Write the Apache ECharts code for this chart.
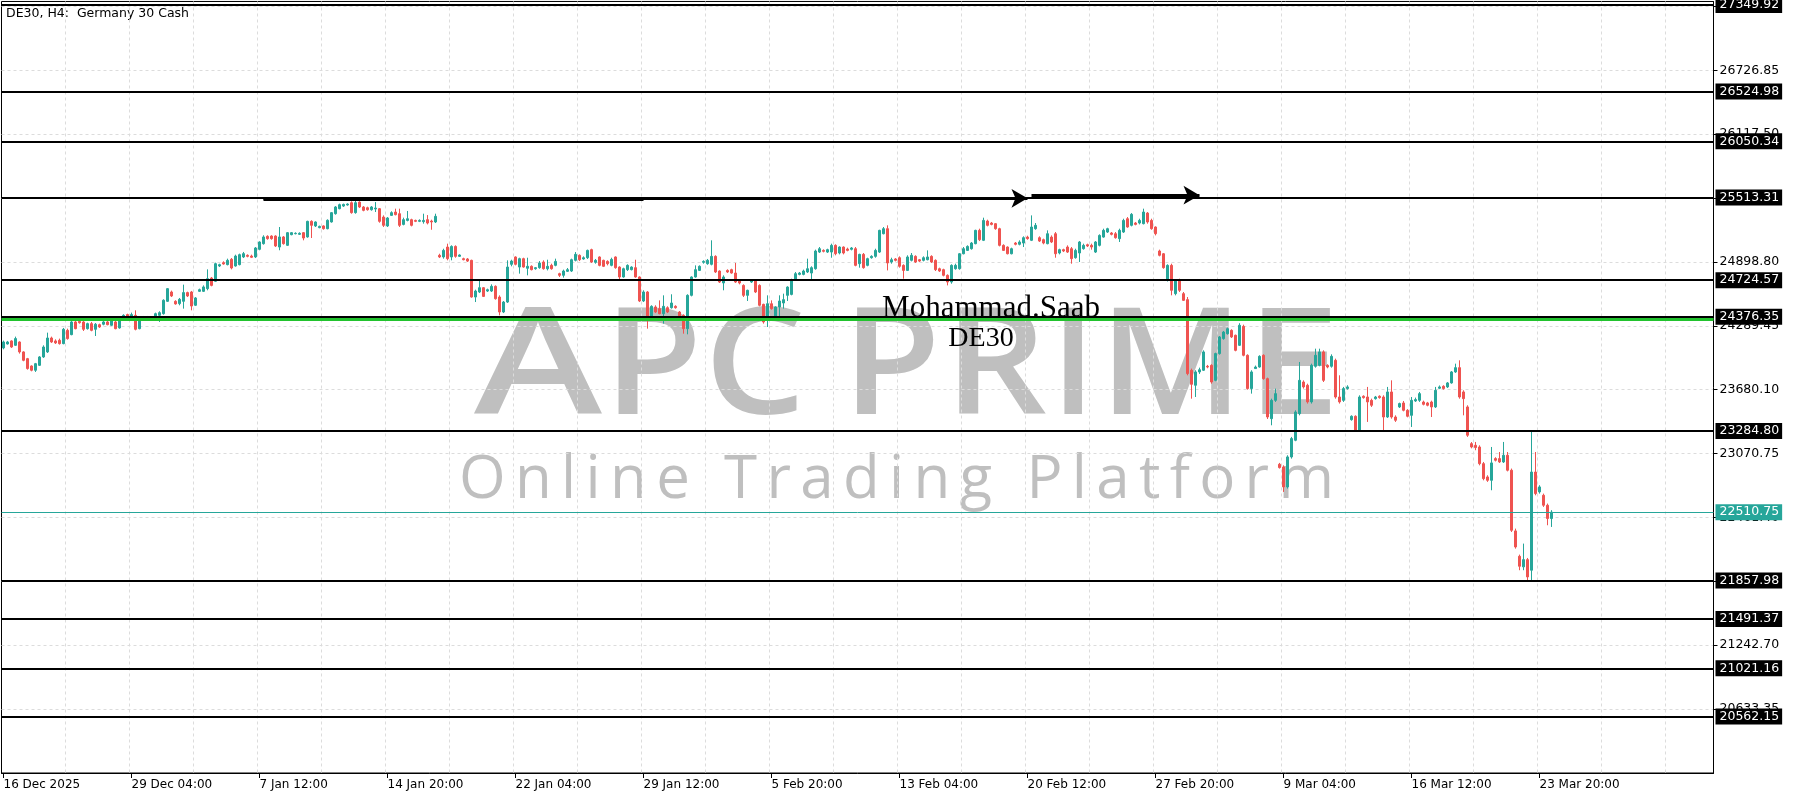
<!DOCTYPE html>
<html><head><meta charset="utf-8">
<script src="https://cdn.jsdelivr.net/npm/echarts@6/dist/echarts.min.js"></script>
<style>html,body{margin:0;padding:0;background:#fff}#c{width:1800px;height:800px}</style>
</head><body><div id="c"></div>
<script>
// ---- data ----
const title = 'DE30, H4:  Germany 30 Cash';
const timeLabels = ['16 Dec 2025','29 Dec 04:00','7 Jan 12:00','14 Jan 20:00','22 Jan 04:00','29 Jan 12:00','5 Feb 20:00','13 Feb 04:00','20 Feb 12:00','27 Feb 20:00','9 Mar 04:00','16 Mar 12:00','23 Mar 20:00'];
const barsPerLabel = 32;
const barsPerGrid = 16;
const totalSlots = 428;
const priceMin = 20022, priceMax = 27384;
const priceTicks = [20633.35,21242.70,21852.05,22461.40,23070.75,23680.10,24289.45,24898.80,25508.15,26117.50,26726.85,27336.20];
const levelLines = [27349.92,26524.98,26050.34,25513.31,24724.57,24376.35,23284.80,21857.98,21491.37,21021.16,20562.15];
const greenLevel = 24352;
const lastPrice = 22510.75;
// arrows: [startBar, startPrice, endBar, endPrice]
const trendBar = [65, 25506, 160, 25506];
const arrowLines = [[65, 25506, 256, 25506], [257, 25536, 299, 25536]];
// candles: [open, close, low, high]
const candles = [
[24078,24135,24065,24148],[24116,24135,24110,24145],[24145,24087,24078,24151],[24103,24167,24097,24186],[24135,24040,24024,24141],
[24040,23960,23951,24046],[23976,23881,23871,23983],[23906,23865,23855,23912],[23865,23928,23849,23935],[23912,23992,23906,24000],
[23992,24087,23983,24103],[24040,24173,24030,24224],[24173,24135,24126,24186],[24145,24126,24116,24160],[24151,24119,24110,24167],
[24119,24256,24113,24269],[24246,24167,24157,24262],[24205,24326,24199,24342],[24326,24262,24256,24335],[24332,24319,24310,24338],
[24326,24256,24240,24335],[24262,24310,24253,24319],[24310,24246,24237,24326],[24256,24304,24192,24316],[24300,24278,24269,24310],
[24304,24326,24294,24335],[24326,24300,24294,24338],[24294,24335,24288,24348],[24326,24262,24256,24338],[24269,24335,24262,24348],
[24351,24389,24345,24399],[24396,24374,24367,24405],[24377,24396,24358,24415],[24389,24256,24246,24437],[24262,24358,24256,24367],
[24351,24374,24345,24383],[24374,24351,24345,24383],[24358,24374,24351,24380],[24374,24405,24364,24415],[24389,24415,24326,24428],
[24405,24533,24396,24542],[24523,24644,24517,24650],[24612,24574,24564,24625],[24523,24498,24491,24533],[24501,24542,24485,24555],
[24523,24606,24453,24682],[24606,24574,24564,24615],[24612,24478,24437,24622],[24485,24555,24478,24564],[24618,24634,24612,24644],
[24618,24660,24612,24675],[24644,24739,24628,24828],[24745,24675,24666,24755],[24714,24882,24707,24892],[24860,24873,24850,24882],
[24892,24879,24873,24905],[24873,24914,24866,24930],[24924,24841,24828,24936],[24860,24955,24854,24968],[24873,24968,24866,24978],
[24946,24978,24936,24994],[24962,24952,24943,24971],[24955,24943,24936,24968],[24946,25032,24936,25041],[25019,25089,25010,25095],
[25073,25137,25064,25153],[25143,25121,25111,25153],[25146,25121,25111,25153],[25146,25051,25041,25153],[25041,25137,25010,25232],
[25137,25073,25064,25146],[25057,25178,25051,25184],[25159,25178,25153,25184],[25168,25172,25162,25181],[25162,25172,25156,25181],
[25178,25127,25105,25184],[25137,25286,25130,25292],[25286,25248,25127,25296],[25242,25280,25232,25286],[25226,25238,25220,25245],
[25242,25216,25207,25248],[25216,25296,25210,25305],[25280,25369,25274,25375],[25359,25423,25350,25432],[25407,25445,25401,25455],
[25432,25448,25423,25455],[25442,25451,25436,25458],[25464,25369,25359,25477],[25369,25464,25359,25486],[25470,25423,25413,25477],
[25423,25391,25382,25432],[25416,25397,25388,25426],[25397,25423,25388,25432],[25404,25413,25375,25470],[25407,25286,25273,25413],
[25327,25248,25232,25343],[25242,25318,25232,25327],[25343,25369,25337,25382],[25375,25350,25343,25407],[25359,25248,25232,25407],
[25257,25302,25248,25321],[25295,25311,25286,25385],[25302,25248,25238,25311],[25295,25286,25279,25302],[25286,25295,25279,25305],
[25283,25295,25264,25359],[25302,25270,25257,25346],[25289,25280,25206,25302],[25280,25334,25270,25359],[24962,24946,24936,24977],
[24946,25009,24930,25025],[25041,24930,24914,25073],[24946,25047,24914,25057],[25047,24952,24939,25057],[24952,24965,24946,24971],
[24930,24920,24914,24939],[24927,24907,24898,24936],[24914,24564,24558,24920],[24564,24621,24516,24634],[24612,24653,24602,24723],
[24653,24570,24564,24659],[24621,24634,24612,24644],[24621,24666,24612,24685],[24666,24548,24539,24675],[24564,24421,24389,24580],
[24421,24516,24411,24526],[24516,24850,24507,24914],[24876,24907,24857,24920],[24946,24876,24866,24952],[24850,24930,24787,24939],
[24930,24850,24844,24939],[24838,24857,24771,24939],[24857,24825,24818,24866],[24834,24844,24825,24850],[24844,24889,24834,24907],
[24898,24834,24825,24914],[24834,24857,24818,24920],[24866,24834,24825,24882],[24866,24904,24857,24930],[24787,24771,24755,24796],
[24771,24812,24749,24825],[24809,24825,24803,24841],[24812,24920,24803,24930],[24914,24971,24904,24993],[24962,24920,24907,24971],
[24927,24939,24920,24952],[24939,25009,24927,25016],[25016,24898,24889,25025],[24895,24914,24882,24927],[24946,24866,24857,24952],
[24914,24857,24850,24920],[24904,24882,24866,24914],[24866,24923,24857,24939],[24946,24844,24834,24952],[24850,24755,24723,24857],
[24755,24834,24749,24844],[24825,24866,24812,24876],[24825,24850,24818,24857],[24844,24755,24749,24920],[24755,24526,24516,24761],
[24526,24612,24516,24628],[24612,24373,24262,24621],[24380,24475,24367,24485],[24469,24421,24411,24485],[24453,24405,24399,24532],
[24405,24475,24310,24580],[24462,24421,24411,24475],[24462,24507,24453,24590],[24475,24462,24453,24485],[24421,24373,24357,24430],
[24389,24262,24214,24399],[24262,24580,24208,24590],[24580,24755,24570,24761],[24755,24825,24749,24866],[24818,24857,24812,24866],
[24895,24904,24882,24914],[24882,24914,24872,24927],[24876,24952,24866,25105],[24952,24803,24793,24962],[24812,24707,24698,24818],
[24698,24755,24628,24771],[24818,24803,24793,24828],[24825,24793,24787,24834],[24793,24707,24698,24889],[24723,24698,24685,24729],
[24675,24580,24564,24685],[24580,24628,24526,24634],[24707,24717,24698,24729],[24723,24612,24602,24729],[24675,24485,24475,24685],
[24494,24326,24310,24500],[24380,24500,24278,24580],[24500,24453,24443,24532],[24373,24469,24367,24475],[24469,24526,24373,24580],
[24507,24539,24453,24596],[24580,24659,24526,24666],[24589,24729,24580,24739],[24723,24787,24717,24803],[24780,24793,24771,24803],
[24780,24812,24771,24825],[24803,24834,24793,24930],[24793,24844,24723,24857],[24834,25003,24825,25016],[24993,25025,24984,25041],
[25009,25000,24990,25019],[24993,25016,24984,25025],[24993,25057,24939,25073],[25057,24977,24962,25067],[24984,25041,24971,25047],
[25041,24984,24971,25047],[25022,25009,25000,25035],[25019,25032,25009,25041],[25025,24866,24857,25041],[24882,24971,24844,24977],
[24971,24844,24834,24984],[24866,24930,24857,24939],[24939,24952,24930,24962],[24952,25009,24939,25025],[24993,25200,24984,25206],
[25168,25216,25162,25232],[25216,24889,24818,25248],[24898,24920,24882,24939],[24927,24914,24904,24936],[24939,24857,24844,24952],
[24866,24818,24739,24876],[24818,24946,24812,24962],[24914,24962,24904,24984],[24952,24898,24889,24962],[24920,24907,24898,24927],
[24914,24939,24904,24952],[24920,24946,24914,25009],[24952,24898,24889,24962],[24914,24825,24812,24923],[24834,24812,24803,24844],
[24825,24771,24761,24834],[24771,24707,24675,24780],[24707,24866,24691,24876],[24834,24866,24825,24882],[24834,24977,24825,24984],
[24977,25025,24971,25041],[25009,25047,25003,25057],[25025,25079,25016,25089],[25073,25200,25067,25206],[25200,25111,25098,25216],
[25105,25295,25098,25321],[25289,25248,25238,25302],[25270,25257,25248,25280],[25264,25216,25206,25270],[25216,25057,25047,25225],
[25057,25009,25003,25067],[25041,24977,24971,25047],[24977,25025,24971,25035],[25079,25067,25057,25089],[25067,25089,25057,25105],
[25079,25130,25041,25143],[25136,25121,25111,25149],[25105,25232,25098,25343],[25216,25248,25206,25270],[25130,25098,25089,25143],
[25111,25079,25067,25121],[25073,25168,25067,25200],[25136,25089,25079,25152],[25168,24977,24939,25184],[24984,25016,24971,25025],
[25016,25003,24993,25025],[25041,24993,24984,25057],[25025,24930,24882,25041],[24939,25009,24930,25025],[24984,25089,24898,25098],
[25025,25057,25016,25073],[25063,25051,25041,25073],[25057,25041,25016,25073],[24993,25089,24984,25098],[25057,25152,25047,25162],
[25136,25200,25130,25216],[25184,25216,25175,25225],[25175,25162,25152,25184],[25168,25130,25121,25184],[25121,25200,25089,25216],
[25184,25295,25175,25311],[25311,25232,25225,25327],[25248,25353,25238,25365],[25270,25257,25248,25280],[25270,25295,25257,25311],
[25264,25375,25257,25407],[25365,25280,25264,25375],[25295,25216,25206,25311],[25232,25168,25152,25238],[25003,24962,24952,25016],
[24977,24844,24834,24984],[24723,24866,24712,24876],[24866,24628,24580,24882],[24596,24723,24580,24729],[24723,24628,24612,24739],
[24596,24532,24526,24612],[24539,23833,23817,24564],[23865,23731,23594,23881],[23722,23849,23610,23865],[23849,23870,23830,23890],
[23865,24040,23858,24055],[23903,23896,23884,23916],[23912,23753,23737,23922],[23769,24024,23760,24033],[24024,24183,24014,24192],
[24167,24230,24157,24240],[24214,24262,24205,24272],[24246,24183,24173,24256],[24199,24055,24046,24205],[24103,24294,24097,24314],
[24284,24008,23998,24300],[24008,23690,23680,24017],[23690,23849,23642,23865],[23881,23896,23877,23910],[23896,23998,23890,24008],
[24008,23785,23775,24017],[23785,23419,23400,23795],[23403,23578,23340,23594],[23578,23642,23563,23690],[22968,22936,22927,22981],
[22942,22752,22704,22958],[22752,23038,22736,23054],[23038,23213,23022,23229],[23197,23467,23188,23483],[23451,23769,23435,23944],
[23753,23706,23690,23769],[23722,23563,23547,23737],[23563,23912,23547,23928],[23903,24008,23890,24071],[23912,24040,23903,24071],
[24040,23769,23753,24055],[23912,23896,23884,23922],[23903,23998,23890,24017],[23960,23610,23594,23976],[23610,23563,23547,23817],
[23578,23690,23563,23706],[23690,23706,23680,23722],[23394,23426,23384,23435],[23426,23292,23276,23435],[23292,23610,23280,23626],
[23617,23604,23594,23626],[23610,23563,23372,23706],[23578,23531,23515,23594],[23594,23610,23585,23620],[23617,23604,23594,23626],
[23610,23419,23292,23626],[23419,23658,23410,23706],[23658,23419,23403,23769],[23419,23388,23372,23435],[23515,23547,23505,23556],
[23553,23483,23473,23572],[23483,23426,23416,23494],[23435,23578,23324,23610],[23572,23585,23563,23604],[23578,23642,23563,23658],
[23562,23540,23530,23575],[23553,23531,23521,23563],[23562,23515,23419,23575],[23515,23674,23505,23706],[23693,23706,23685,23720],
[23712,23690,23680,23722],[23706,23744,23696,23753],[23744,23849,23737,23858],[23849,23890,23840,23928],[23890,23610,23594,23960],
[23658,23594,23435,23674],[23515,23245,23229,23531],[23165,23133,23120,23180],[23149,23127,23102,23181],[23133,22974,22958,23149],
[22974,22831,22815,22990],[22847,22815,22800,22863],[22815,22981,22720,23133],[23022,23006,22995,23035],[23022,22990,22980,23085],
[22990,23054,22980,23181],[23054,22911,22900,23085],[22911,22338,22322,22927],[22332,22179,22163,22354],[22090,21995,21957,22106],
[21989,22058,21957,22211],[22058,21893,21861,22074],[21957,22894,21861,23292],[22894,22688,22672,23085],[22704,22752,22688,22768],
[22672,22577,22561,22688],[22577,22450,22386,22593],[22450,22510.75,22370,22530]
];

// ---- chart ----
const slots = Array.from({length: totalSlots}, (_, i) => String(i));
const chart = echarts.init(document.getElementById('c'), null, {renderer: 'canvas'});
const bull = '#26a69a', bear = '#ef5350';
const axisFont = '"DejaVu Sans", sans-serif';
const wmColor = '#bfbfbf';
const isTimeTick = (i) => i % barsPerLabel === 0 && i < candles.length;

// watermark text spread evenly between two x positions (one element per letter, optional horizontal stretch)
function spreadText(text, font, left, right, y, stretch) {
  const ctx = document.createElement('canvas').getContext('2d');
  ctx.font = font;
  const chars = Array.from(text);
  const sx = chars.map((ch, i) => (stretch && stretch[i]) || 1);
  const widths = chars.map((ch, i) => ctx.measureText(ch).width * sx[i]);
  const total = widths.reduce((a, b) => a + b, 0);
  const gap = (right - left - total) / (chars.length - 1);
  const out = [];
  let x = left;
  chars.forEach((ch, i) => {
    if (ch !== ' ') out.push({type: 'text', z: 0, silent: true, x: x, y: y, scaleX: sx[i],
      style: {text: ch, font: font, fill: wmColor, align: 'left', verticalAlign: 'middle'}});
    x += widths[i] + gap;
  });
  return out;
}

const mlData = [];
levelLines.forEach(v => mlData.push({
  yAxis: v,
  lineStyle: {color: '#000', width: 2, type: 'solid'},
  label: {show: true, position: 'end', distance: 2, formatter: v.toFixed(2), color: '#fff',
          backgroundColor: '#000', padding: [2, 3, 1, 4], fontSize: 12.5, fontFamily: axisFont}
}));
mlData.push({yAxis: greenLevel, lineStyle: {color: '#22c32e', width: 3, type: 'solid'}, label: {show: false}});
mlData.push({
  yAxis: lastPrice,
  lineStyle: {color: bull, width: 1, type: 'solid'},
  label: {show: true, position: 'end', distance: 2, formatter: lastPrice.toFixed(2), color: '#fff',
          backgroundColor: bull, padding: [2, 3, 1, 4], fontSize: 12.5, fontFamily: axisFont}
});
mlData.push([
  {coord: [trendBar[0], trendBar[1]], symbol: 'none', lineStyle: {color: '#000', width: 4, type: 'solid'}, label: {show: false}},
  {coord: [trendBar[2], trendBar[3]], symbol: 'none'}
]);
arrowLines.forEach(a => mlData.push([
  {coord: [a[0], a[1]], symbol: 'none', lineStyle: {color: '#000', width: 3, type: 'solid'}, label: {show: false}},
  {coord: [a[2], a[3]], symbol: 'arrow', symbolSize: [14, 16]}
]));

const graphics = [
  {type: 'text', z: 0, left: 6, top: 7, style: {text: title, font: '12.5px "DejaVu Sans"', fill: '#000'}}
]
.concat(spreadText('APC', '600 149px "Open Sans"', 474, 806, 372, [1.3, 1.08, 1.08]))
.concat(spreadText('PRIME', '600 149px "Open Sans"', 842, 1340, 372, [1.08, 1.08, 1, 1.05, 1.12]))
.concat(spreadText('Online Trading Platform', '60px "Open Sans"', 459, 1334, 481))
.concat([
  {type: 'text', z: 100, x: 991, y: 309, style: {text: 'Mohammad.Saab', font: '31px "Liberation Serif"', fill: '#000', align: 'center', verticalAlign: 'middle'}},
  {type: 'text', z: 100, x: 981, y: 339, style: {text: 'DE30', font: '28px "Liberation Serif"', fill: '#000', align: 'center', verticalAlign: 'middle'}}
]);

const option = {
  animation: false,
  backgroundColor: '#fff',
  grid: {left: 1.5, right: 86.5, top: 1, bottom: 27, show: true, borderColor: '#000', borderWidth: 1, containLabel: false},
  xAxis: {
    type: 'category', data: slots, boundaryGap: true,
    axisLine: {lineStyle: {color: '#000', width: 1}},
    axisTick: {show: true, alignWithLabel: true, length: 5, lineStyle: {color: '#000'},
               interval: (i) => isTimeTick(i)},
    axisLabel: {interval: (i) => isTimeTick(i), align: 'left', margin: 6,
                color: '#000', fontSize: 12, fontFamily: axisFont,
                formatter: (v, i) => (isTimeTick(i) && timeLabels[i / barsPerLabel]) ? timeLabels[i / barsPerLabel] : ''},
    splitLine: {show: true, interval: (i) => i > 0 && i % barsPerGrid === 0,
                lineStyle: {color: '#dcdcdc', type: [3, 3], width: 1}}
  },
  yAxis: {
    type: 'value', position: 'right', min: priceMin, max: priceMax, scale: true,
    axisLine: {show: true, lineStyle: {color: '#000', width: 1}},
    axisTick: {show: true, length: 4, lineStyle: {color: '#000'}, customValues: priceTicks},
    axisLabel: {customValues: priceTicks, color: '#000', fontSize: 12.5, fontFamily: axisFont, margin: 6,
                formatter: v => Number(v).toFixed(2)},
    splitLine: {show: true, lineStyle: {color: '#dcdcdc', type: [3, 3], width: 1}}
  },
  graphic: graphics,
  series: [{
    type: 'candlestick', data: candles, barWidth: 2, z: 5,
    itemStyle: {color: bull, color0: bear, borderColor: bull, borderColor0: bear, borderWidth: 1},
    markLine: {silent: true, symbol: ['none', 'none'], animation: false, precision: 2, z: 6, data: mlData}
  }]
};
chart.setOption(option);
</script></body></html>
